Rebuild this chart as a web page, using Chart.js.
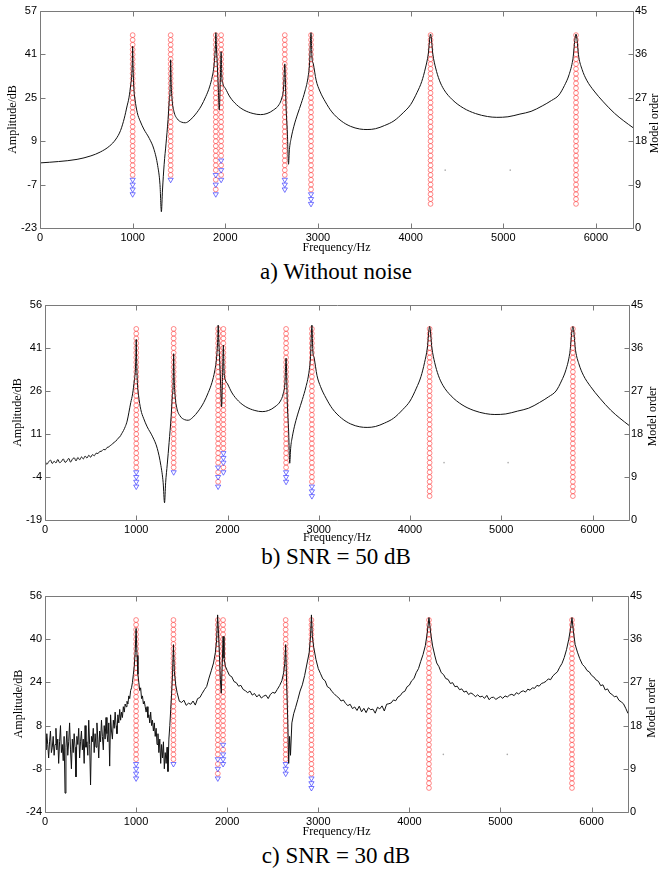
<!DOCTYPE html>
<html>
<head>
<meta charset="utf-8">
<script src="https://cdn.jsdelivr.net/npm/chart.js@4.4.0/dist/chart.umd.min.js"></script>
<style>
  body { margin: 0; background: #fff; width: 660px; height: 870px; position: relative; overflow: hidden; }
  canvas { position: absolute; left: 0; }
  .cap { position: absolute; left: 0; width: 672px; text-align: center; font-family: "Liberation Serif", "Times New Roman", serif; font-size: 23px; line-height: 1; color: #000; }
</style>
</head>
<body>
<canvas id="chartA" width="660" height="254" style="top:0px"></canvas>
<canvas id="chartB" width="660" height="254" style="top:290px"></canvas>
<canvas id="chartC" width="660" height="258" style="top:580px"></canvas>
<div class="cap" style="top:260px">a) Without noise</div>
<div class="cap" style="top:545px">b) SNR = 50 dB</div>
<div class="cap" style="top:844px">c) SNR = 30 dB</div>
<script>
// Ticks
const freqTicks = [0, 1000, 2000, 3000, 4000, 5000, 6000];
const orderTicks = [0, 9, 18, 27, 36, 45];
const ampTicksA = [-23, -7, 9, 25, 41, 57];
const ampTicksB = [-19, -4, 11, 26, 41, 56];
const ampTicksC = [-24, -8, 8, 24, 40, 56];

// a) spectre sans bruit (Hz, dB)
const freqA = [0,200,400,550,650,750,820,870,910,940,
  960,980,990,996,1000,1004,1012,1025,1050,1080,
  1120,1180,1230,1270,1295,1310,1322,1340,1360,1382,
  1395,1404,1410,1416,1425,1445,1480,1530,1570,1620,
  1680,1740,1790,1830,1860,1880,1893,1898,1905,1915,
  1925,1935,1945,1955,1962,1975,2000,2050,2120,2200,
  2300,2380,2450,2520,2580,2610,2630,2642,2655,2670,
  2682,2692,2710,2740,2780,2820,2860,2890,2910,2925,
  2935,2950,2980,3020,3080,3150,3250,3350,3450,3530,
  3620,3720,3820,3920,4000,4070,4120,4160,4190,4215,
  4240,4270,4310,4360,4450,4570,4700,4830,4930,5050,
  5180,5300,5420,5520,5600,5660,5710,5750,5785,5815,
  5850,5900,5980,6080,6200,6300,6400];
const ampA = [1.0,1.5,2.3,3.6,5.0,7.2,9.8,13,17.5,22,
  25,30,33,38,44,37,29,24.5,19.5,16.5,
  13.5,10,6,0,-7,-17,-9,0.5,8,17,
  24,28,39,30,24.5,20,17.3,16,15.8,16.8,
  19,22,25.5,29,33,37.5,44,49,43,36,
  28,20.5,30,42,33,30,28.5,25.3,22.5,20.5,
  19.2,18.8,19.2,20.5,22.5,25,29,37.5,22,12,
  0.5,6,10,14.5,19,23,27.5,32,38,49,
  40,37.5,31.5,27.5,23.5,19.8,16.5,14.5,13.5,13.3,
  13.6,14.8,16.5,19.5,22.5,27,31,36,41,48.5,
  41,36,31.5,28,24.3,21.2,19.2,18.1,17.8,18,
  19,20,22,24,26,29.5,33.5,39,48.5,40,
  35.5,31.5,27.5,23.5,19.3,16.5,14.0];

// b) SNR = 50 dB
const freqB = [0,20,40,60,80,100,120,140,160,180,
  200,220,240,260,280,300,320,340,360,380,
  400,420,440,460,480,500,520,540,560,580,
  600,620,640,660,680,700,720,740,760,780,
  800,820,840,860,880,900,
  940,960,980,990,996,1000,1004,1012,1025,1050,1080,
  1120,1180,1230,1270,1295,1310,1322,1340,1360,1382,
  1395,1404,1410,1416,1425,1445,1480,1530,1570,1620,
  1680,1740,1790,1830,1860,1880,1893,1898,1905,1915,
  1925,1935,1945,1955,1962,1975,2000,2050,2120,2200,
  2300,2380,2450,2520,2580,2610,2630,2642,2655,2670,
  2682,2692,2710,2740,2780,2820,2860,2890,2910,2925,
  2935,2950,2980,3020,3080,3150,3250,3350,3450,3530,
  3620,3720,3820,3920,4000,4070,4120,4160,4190,4215,
  4240,4270,4310,4360,4450,4570,4700,4830,4930,5050,
  5180,5300,5420,5520,5600,5660,5710,5750,5785,5815,
  5850,5900,5980,6080,6200,6300,6400];
const ampB = [1.6,0.4,1.3,1.9,0.7,1.5,0.9,2.1,1.0,1.4,
  2.3,1.1,1.6,2.5,1.2,2.2,2.7,1.6,2.8,2.0,
  3.0,2.3,3.3,2.6,3.6,2.9,3.8,3.4,4.3,4.2,
  4.9,5.0,5.6,5.5,6.3,6.5,7.1,7.5,8.2,8.6,
  9.5,10.0,11.1,12.2,13.6,15.5,
  22,25,30,33,38,44,37,29,24.5,19.5,16.5,
  13.5,10,6,0,-6,-13,-6,0.5,8,17,
  24,28,39,30,24.5,20,17.3,16,15.8,16.8,
  19,22,25.5,29,33,37.5,44,49,43,36,
  28,20.5,30,42,33,30,28.5,25.3,22.5,20.5,
  19.2,18.8,19.2,20.5,22.5,25,29,37.5,22,12,
  0.8,6,10,14.5,19,23,27.5,32,38,49,
  40,37.5,31.5,27.5,23.5,19.8,16.5,14.5,13.5,13.3,
  13.6,14.8,16.5,19.5,22.5,27,31,36,41,48.5,
  41,36,31.5,28,24.3,21.2,19.2,18.1,17.8,18,
  19,20,22,24,26,29.5,33.5,39,48.5,40,
  35.5,31.5,27.5,23.5,19.3,16.5,14.0];

// c) SNR = 30 dB
const freqC = [0,10,20,30,40,50,60,70,80,90,
  100,110,120,130,140,150,160,170,180,190,
  200,210,220,230,240,250,260,270,280,290,
  300,310,320,330,340,350,360,370,380,390,
  400,410,420,430,440,450,460,470,480,490,
  500,510,520,530,540,550,560,570,580,590,
  600,610,620,630,640,650,660,670,680,690,
  700,710,720,730,740,750,760,770,780,790,
  800,810,820,830,840,850,860,870,880,890,
  900,910,920,930,940,950,960,970,980,990,
  1000,1010,1020,1030,1040,1050,1060,1070,1080,1090,
  1100,1110,1120,1130,1140,1150,1160,1170,1180,1190,
  1200,1210,1220,1230,1240,1250,1260,1270,1280,1290,
  1300,1310,1320,1330,1340,1350,1360,1370,1380,1390,
  1400,
  1410,1420,1435,1450,1475,1500,1525,1550,1575,1600,
  1625,1650,1675,1700,1725,1750,1775,1800,1825,1850,
  1870,1885,1895,1905,1915,1925,1935,1945,1955,1965,
  1980,2000,2025,2050,2075,2100,2125,2150,2175,2200,
  2225,2250,2275,2300,2325,2350,2375,2400,2425,2450,
  2475,2500,2525,2550,2575,2600,2620,2632,2642,2652,
  2665,2675,2685,2695,2710,2730,2750,2775,2800,2825,
  2850,2875,2900,2915,2925,2935,2950,2975,3000,3025,
  3050,3075,3100,3125,3150,3175,3200,3225,3250,3275,
  3300,3325,3350,3375,3400,3425,3450,3475,3500,3525,
  3550,3575,3600,3625,3650,3675,3700,3725,3750,3775,
  3800,3825,3850,3875,3900,3925,3950,3975,4000,4025,
  4050,4075,4100,4125,4150,4175,4195,4215,4235,4255,
  4280,4300,4325,4350,4375,4400,4425,4450,4475,4500,
  4525,4550,4575,4600,4625,4650,4675,4700,4725,4750,
  4775,4800,4825,4850,4875,4900,4925,4950,4975,5000,
  5025,5050,5075,5100,5125,5150,5175,5200,5225,5250,
  5275,5300,5325,5350,5375,5400,5425,5450,5475,5500,
  5525,5550,5575,5600,5625,5650,5675,5700,5725,5750,
  5770,5785,5800,5820,5845,5870,5900,5925,5950,5975,
  6000,6025,6050,6075,6100,6125,6150,6175,6200,6225,
  6250,6275,6300,6325,6350,6375,6400];
const ampC = [3,-1,5,1,-4,2,6,-2,0,4,
  -3,1,7,-1,3,-6,2,8,-2,1,
  -5,4,-17,0,6,-3,2,9,-1,-8,
  3,-2,5,0,-11,4,1,7,-4,2,
  6,-1,3,-6,8,0,2,-3,10,1,
  -14,4,2,7,-2,5,0,9,3,-4,
  6,2,10,4,-1,8,3,11,5,2,
  9,-7,12,6,3,10,7,13,8,5,
  12,9,14,10,13,11,15,13,16,15,
  17,16,19,18,21,22,24,27,30,35,
  44,34,27,24,21,22,18,19,16,17,
  15,13,15,11,12,9,13,8,10,6,
  9,4,7,1,5,-2,3,-6,1,-4,
  2,-8,-2,-6,0,-9,3,8,14,20,
  27,
  38,28,23,20.3,17.0,16.6,17.4,15.5,16.3,15.9,
  17.1,15.6,18.0,18.4,19.9,21.3,22.5,25.6,28.3,31.2,
  35,40,49,42,34,25,20,30,41,33,
  30,28.4,26.6,26.1,24.3,23.9,22.6,22.9,21.4,20.9,
  20.2,20.8,19.3,19.9,18.6,19.5,18.2,18.9,19.3,18.0,
  19.6,20.3,20.0,21.4,22.8,24.6,27.6,31,38,24,
  10,-6,4,-3,9,12.4,14.6,17.6,20.8,23.1,
  26.5,30.8,35,41,49,41,37,32.4,29.1,27.2,
  25.3,24.6,22.4,21.9,20.6,19.8,18.9,18.3,17.1,17.5,
  16.2,15.4,15.9,14.3,14.9,13.6,15.2,13.1,14.4,12.8,
  14.6,13.9,14.1,12.6,14.8,14.2,15.3,13.4,15.9,16.1,
  16.4,17.5,17.2,18.6,19.1,20.3,20.7,22.4,23.0,24.6,
  25.4,27.6,29.1,31.8,34.3,37.6,42,48,42,37.5,
  33.8,31.2,29.8,27.6,26.9,25.4,25.1,23.6,23.9,22.4,
  22.6,21.3,21.6,20.4,20.8,19.5,20.1,19.6,18.7,19.4,
  18.6,18.9,18.1,19.2,17.6,18.4,18.5,17.7,18.3,18.8,
  18.1,19.0,18.6,19.3,19.6,19.1,20.2,19.7,20.5,20.9,
  20.4,21.5,21.1,22.0,21.8,22.9,22.6,23.6,23.9,24.4,
  25.3,25.0,26.4,27.2,27.9,29.6,31.0,33.2,36.1,40,
  44,48,43,38,35.2,32.8,30.6,29.8,28.4,27.9,
  26.6,26.0,24.9,24.4,22.8,23.1,21.2,21.6,20.1,19.5,
  18.7,18.9,17.4,16.8,16.1,14.4,12.5];

// Diagramme de stabilisation : fréquences des colonnes et ordres
const poleFreqs = [1000, 1410, 1897, 1955, 2642, 2925, 4215, 5785];
// [ordre min, ordre max] des pôles stables
const stableRangesA = [[11,40],[11,40],[12,40],[15,40],[11,40],[8,40],[5,40],[5,40]];
const stableExtraA = [[], [], [10, 8], [13, 11], [], [], [], []];
const unstableA = [[7,8,9,10], [10], [7,9,11], [10,12,14], [8,9,10], [5,6,7], [], []];
const stableRangesB = [[11,40],[11,40],[12,40],[15,40],[11,40],[8,40],[5,40],[5,40]];
const stableExtraB = [[], [], [10, 8], [11], [], [], [], []];
const unstableB = [[7,8,9,10], [10], [7,9,11], [10,12,13,14], [8,9,10], [5,6,7], [], []];
const stableRangesC = [[11,40],[11,40],[12,40],[15,40],[11,40],[8,40],[5,40],[5,40]];
const stableExtraC = [[], [], [10, 8], [13], [], [], [], []];
const unstableC = [[7,8,9,10], [10], [7,9,11], [10,11,12,14], [8,9,10], [5,6,7], [], []];
// petits points gris isolés
const dotFreqs = [4373, 5075];
const dotOrders = [12, 12];

const tickFont = { family: '"Liberation Sans", Arial, sans-serif', size: 11 };
const titleFont = { family: '"Liberation Serif", "Times New Roman", serif', size: 12, lineHeight: 1 };

const toPoints = (xs, ys) => xs.map((x, i) => ({ x: x, y: ys[i] }));

const buildPoles = (ranges, extras) => {
  let pts = [];
  poleFreqs.forEach((f, i) => {
    for (let m = ranges[i][0]; m <= ranges[i][1]; m++) pts.push({ x: f, y: m });
    extras[i].forEach(m => pts.push({ x: f, y: m }));
  });
  return pts;
};

const buildUnstable = list => {
  let pts = [];
  poleFreqs.forEach((f, i) => list[i].forEach(m => pts.push({ x: f, y: m })));
  return pts;
};

// cadre gris, graduations internes et titre de droite
const framePlugin = {
  id: 'frame',
  afterDraw(chart, args, opts) {
    const { ctx, chartArea: a, scales } = chart;
    const L = Math.round(a.left) + 0.5, R = Math.round(a.right) + 0.5;
    const T = Math.round(a.top) + 0.5, B = Math.round(a.bottom) + 0.5;
    ctx.save();
    ctx.strokeStyle = '#7a7a7a';
    ctx.lineWidth = 1;
    ctx.beginPath();
    ctx.rect(L, T, R - L, B - T);
    freqTicks.forEach(v => {
      const px = Math.round(scales.x.getPixelForValue(v)) + 0.5;
      ctx.moveTo(px, B); ctx.lineTo(px, B - 5);
      ctx.moveTo(px, T); ctx.lineTo(px, T + 5);
    });
    scales.y.ticks.forEach(t => {
      const py = Math.round(scales.y.getPixelForValue(t.value)) + 0.5;
      ctx.moveTo(L, py); ctx.lineTo(L + 5, py);
    });
    scales.y2.ticks.forEach(t => {
      const py = Math.round(scales.y2.getPixelForValue(t.value)) + 0.5;
      ctx.moveTo(R, py); ctx.lineTo(R - 5, py);
    });
    ctx.stroke();
    ctx.translate(opts.rightTitleX, (a.top + a.bottom) / 2 + 4);
    ctx.rotate(-Math.PI / 2);
    ctx.font = '12px "Liberation Serif", "Times New Roman", serif';
    ctx.fillStyle = '#000';
    ctx.textAlign = 'center';
    ctx.textBaseline = 'middle';
    ctx.fillText('Model order', 0, 0);
    ctx.restore();
  }
};

const makeChart = (id, p) => {
  new Chart(document.getElementById(id), {
    type: 'line',
    data: {
      datasets: [
        { data: p.curve, borderColor: '#111', borderWidth: 1, pointRadius: 0, fill: false,
          cubicInterpolationMode: p.smooth ? 'monotone' : 'default', tension: 0, yAxisID: 'y' },
        { data: p.unstable, showLine: false, pointStyle: 'triangle', rotation: 180, pointRadius: 3,
          pointBorderWidth: 0.9, pointBorderColor: 'rgba(50,50,255,0.75)', pointBackgroundColor: 'rgba(0,0,0,0)', yAxisID: 'y2' },
        { data: p.stable, showLine: false, pointStyle: 'circle', pointRadius: 2.4,
          pointBorderWidth: 0.9, pointBorderColor: 'rgba(255,40,40,0.6)', pointBackgroundColor: 'rgba(0,0,0,0)', yAxisID: 'y2' },
        { data: toPoints(dotFreqs, dotOrders), showLine: false, pointRadius: 0.8, pointBorderWidth: 0,
          pointBackgroundColor: '#aaa', yAxisID: 'y2' }
      ]
    },
    options: {
      responsive: false,
      animation: false,
      events: [],
      layout: { padding: { top: p.padTop, left: 0, right: 0, bottom: 0 } },
      plugins: { legend: { display: false }, tooltip: { enabled: false }, frame: { rightTitleX: p.rightTitleX } },
      scales: {
        x: {
          type: 'linear', min: 0, max: 6400,
          afterBuildTicks: s => { s.ticks = freqTicks.map(v => ({ value: v })); },
          afterFit: s => { s.height = p.xH; },
          grid: { display: false, drawTicks: false }, border: { display: false },
          ticks: { autoSkip: false, maxRotation: 0, padding: 3, font: tickFont, color: '#000', callback: v => String(v) },
          title: { display: true, text: 'Frequency/Hz', font: titleFont, color: '#000', padding: { top: 0, bottom: 0 } }
        },
        y: {
          type: 'linear', position: 'left', min: p.ampTicks[0], max: p.ampTicks[p.ampTicks.length - 1],
          afterBuildTicks: s => { s.ticks = p.ampTicks.map(v => ({ value: v })); },
          afterFit: s => { s.width = p.leftW; },
          grid: { display: false, drawTicks: false }, border: { display: false },
          ticks: { padding: 3, font: tickFont, color: '#000', callback: v => String(v) },
          title: { display: true, text: 'Amplitude/dB', font: titleFont, color: '#000', padding: { top: p.leftTitlePad, bottom: 0 } }
        },
        y2: {
          type: 'linear', position: 'right', min: 0, max: 45,
          afterBuildTicks: s => { s.ticks = orderTicks.map(v => ({ value: v })); },
          afterFit: s => { s.width = p.rightW; },
          grid: { display: false, drawTicks: false }, border: { display: false },
          ticks: { padding: 2, font: tickFont, color: '#000', callback: v => String(v) }
        }
      }
    },
    plugins: [framePlugin]
  });
};

makeChart('chartA', {
  curve: toPoints(freqA, ampA), smooth: true, ampTicks: ampTicksA,
  stable: buildPoles(stableRangesA, stableExtraA), unstable: buildUnstable(unstableA),
  padTop: 11, leftW: 40, rightW: 27, xH: 26, leftTitlePad: 7, rightTitleX: 655
});
makeChart('chartB', {
  curve: toPoints(freqB, ampB), smooth: true, ampTicks: ampTicksB,
  stable: buildPoles(stableRangesB, stableExtraB), unstable: buildUnstable(unstableB),
  padTop: 15, leftW: 45, rightW: 31, xH: 24, leftTitlePad: 12, rightTitleX: 653
});
makeChart('chartC', {
  curve: toPoints(freqC, ampC), smooth: false, ampTicks: ampTicksC,
  stable: buildPoles(stableRangesC, stableExtraC), unstable: buildUnstable(unstableC),
  padTop: 16, leftW: 45, rightW: 32, xH: 26, leftTitlePad: 13, rightTitleX: 652
});

if (freqA.length !== ampA.length || freqB.length !== ampB.length || freqC.length !== ampC.length) {
  console.log('longueurs différentes', freqA.length, ampA.length, freqB.length, ampB.length, freqC.length, ampC.length);
}
</script>
</body>
</html>
